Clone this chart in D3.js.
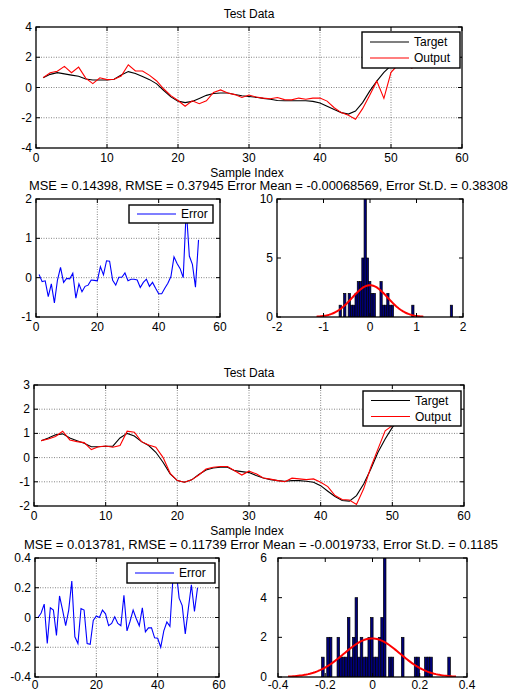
<html>
<head>
<script type="text/javascript" src="https://d3js.org/d3.v7.min.js"></script>
<style>
  body { margin: 0; background: #fff; }
  svg text { font-family: "Liberation Sans", Arial, sans-serif; font-size: 12px; fill: #000; }
  .grid line { stroke: #666; stroke-width: 0.8; stroke-dasharray: 1,1.5; }
</style>
</head>
<body>
<script type="text/javascript">
// sample index 1..53
var sampleIndex = d3.range(1, 54);

// first run: network target / output on the test set
var target1 = [0.65, 0.87, 0.98, 0.9, 0.82, 0.74, 0.56, 0.5, 0.5, 0.5, 0.54, 0.83, 1.05, 0.92, 0.72, 0.52,
  0.24, -0.2, -0.62, -0.9, -1.0, -0.92, -0.72, -0.52, -0.4, -0.36, -0.36, -0.46, -0.55, -0.6, -0.65,
  -0.72, -0.78, -0.86, -0.88, -0.88, -0.88, -0.88, -0.92, -1.02, -1.24, -1.46, -1.66, -1.76, -1.56,
  -1.0, -0.24, 0.42, 1.0, 1.45, 1.75, 1.9, 2.0];
var output1 = [0.65, 0.98, 1.08, 1.4, 0.98, 1.35, 0.62, 0.26, 0.64, 0.52, 0.55, 0.76, 1.5, 1.09, 1.09, 0.8,
  0.43, -0.1, -0.54, -0.86, -1.24, -0.88, -1.07, -0.88, -0.33, -0.16, -0.37, -0.47, -0.66, -0.5, -0.63,
  -0.7, -0.74, -0.66, -0.8, -0.82, -0.7, -0.78, -0.7, -0.7, -0.9, -1.34, -1.66, -1.84, -2.1, -1.4,
  -0.52, 0.42, -0.72, 1.0, 1.5, 1.6, 1.25];
var error1 = [0.08, -0.1, -0.08, -0.48, -0.16, -0.64, -0.06, 0.26, -0.12, -0.02, -0.03, 0.11, -0.52, -0.16,
  -0.36, -0.22, -0.19, -0.06, -0.07, -0.08, 0.28, 0.07, 0.43, 0.42, -0.07, -0.19, 0.01, 0.01, 0.12,
  -0.08, -0.04, -0.04, -0.06, -0.25, -0.12, -0.04, -0.22, -0.12, -0.27, -0.41, -0.41, -0.27, -0.14,
  0.03, 0.53, 0.36, 0.23, 0.0, 1.75, 0.55, 0.34, -0.24, 0.96];
// error histogram: 50 bins, first bin centre and bin width
var hist1Counts = [1, 0, 2, 0, 2, 1, 1, 2, 3, 3, 5, 10, 5, 3, 2, 2, 0, 0, 3, 1, 1, 2, 1, 1, 0,
  0, 0, 0, 0, 0, 0, 0, 1, 0, 0, 0, 0, 0, 0, 0, 0, 0, 0, 0, 0, 0, 0, 0, 0, 1];
var hist1Start = -0.64, hist1Width = 0.0488;

// second run
var target2 = [0.7, 0.81, 0.94, 0.98, 0.81, 0.7, 0.59, 0.45, 0.45, 0.47, 0.47, 0.81, 1.0, 0.89, 0.66, 0.5,
  0.22, -0.19, -0.67, -0.95, -1.02, -0.92, -0.7, -0.51, -0.43, -0.4, -0.4, -0.54, -0.58, -0.62, -0.74,
  -0.84, -0.91, -0.95, -0.98, -0.95, -0.95, -0.98, -1.02, -1.16, -1.39, -1.61, -1.77, -1.8, -1.57,
  -1.09, -0.47, 0.22, 0.77, 1.25, 1.6, 1.85, 2.0];
var output2 = [0.7, 0.77, 0.87, 1.09, 0.73, 0.66, 0.62, 0.33, 0.45, 0.48, 0.43, 0.5, 1.09, 1.05, 0.66, 0.52,
  0.43, 0.01, -0.65, -0.95, -1.02, -0.92, -0.72, -0.47, -0.4, -0.37, -0.37, -0.54, -0.72, -0.56, -0.67,
  -0.84, -0.89, -0.95, -1.0, -0.85, -0.88, -0.91, -0.88, -1.02, -1.2, -1.57, -1.73, -1.75, -1.94,
  -1.29, -0.4, 0.36, 1.11, 1.32, 1.6, 1.8, 2.0];
var error2 = [0, 0.03, 0.09, -0.175, 0.065, 0.05, -0.12, 0.145, 0.05, -0.055, 0.05, 0.245, -0.13, -0.175,
  0.06, 0.05, -0.175, -0.18, -0.02, 0.01, 0.0, 0.05, 0.025, -0.055, -0.04, 0.005, -0.04, -0.055, 0.15,
  -0.09, -0.025, 0.05, -0.007, -0.056, 0.065, -0.097, -0.07, -0.07, -0.137, -0.14, -0.2, -0.09, -0.03,
  -0.06, 0.27, 0.32, 0.13, 0.08, -0.11, 0.06, 0.22, 0.04, 0.2];
var hist2Counts = [1, 0, 2, 2, 0, 0, 2, 1, 1, 1, 3, 1, 2, 4, 1, 2, 1, 1, 2, 3, 1, 1, 2, 3, 6,
  0, 1, 1, 0, 0, 0, 2, 0, 0, 0, 0, 1, 1, 0, 0, 1, 1, 1, 0, 0, 0, 0, 0, 0, 1];
var hist2Start = -0.21, hist2Width = 0.0109;

// performance figures printed above the error plots
var mseVals = [0.14398, 0.013781];
var rmseVals = [0.37945, 0.11739];
var errMeans = [-0.00068569, -0.0019733];
var errStds = [0.38308, 0.1185];

// tick values
var seriesXTicks = [0, 10, 20, 30, 40, 50, 60];
var top1YTicks = [-4, -2, 0, 2, 4];
var top2YTicks = [-2, -1, 0, 1, 2, 3];
var errXTicks = [0, 20, 40, 60];
var err1YTicks = [-1, 0, 1, 2];
var err2YTicks = [-0.4, -0.2, 0, 0.2, 0.4];
var hist1XTicks = [-2, -1, 0, 1, 2];
var hist1YTicks = [0, 5, 10];
var hist2XTicks = [-0.4, -0.2, 0, 0.2, 0.4];
var hist2YTicks = [0, 2, 4, 6];

var svg = d3.select("body").append("svg")
  .attr("width", 516)
  .attr("height", 692);

var fmt = function(d) { return String(+d.toFixed(2)); };
var clipId = 0;

// one MATLAB-style axes: box, inward ticks on every side, optional dotted grid
function makeAxes(p) {
  var x = d3.scaleLinear().domain(p.xd).range([p.l, p.r]);
  var y = d3.scaleLinear().domain(p.yd).range([p.b, p.t]);
  var g = svg.append("g");

  if (p.grid) {
    var grid = g.append("g").attr("class", "grid");
    grid.selectAll(".gx").data(p.xt.slice(1, -1)).enter().append("line")
      .attr("x1", x).attr("x2", x).attr("y1", p.t).attr("y2", p.b);
    grid.selectAll(".gy").data(p.yt.slice(1, -1)).enter().append("line")
      .attr("y1", y).attr("y2", y).attr("x1", p.l).attr("x2", p.r);
  }

  var id = "clip" + (clipId++);
  svg.append("clipPath").attr("id", id).append("rect")
    .attr("x", p.l).attr("y", p.t).attr("width", p.r - p.l).attr("height", p.b - p.t);
  var plot = g.append("g").attr("clip-path", "url(#" + id + ")");

  var frame = svg.append("g");
  var tl = 4;
  frame.selectAll(".tx").data(p.xt).enter().append("path")
    .attr("d", function(d) {
      return "M" + x(d) + "," + p.b + "v" + (-tl) + "M" + x(d) + "," + p.t + "v" + tl;
    })
    .attr("stroke", "#000").attr("stroke-width", 1);
  frame.selectAll(".ty").data(p.yt).enter().append("path")
    .attr("d", function(d) {
      return "M" + p.l + "," + y(d) + "h" + tl + "M" + p.r + "," + y(d) + "h" + (-tl);
    })
    .attr("stroke", "#000").attr("stroke-width", 1);
  frame.append("rect")
    .attr("x", p.l).attr("y", p.t).attr("width", p.r - p.l).attr("height", p.b - p.t)
    .attr("fill", "none").attr("stroke", "#000").attr("stroke-width", 1.3);

  frame.selectAll(".lx").data(p.xt).enter().append("text")
    .attr("x", x).attr("y", p.b + (p.xlOff || 14))
    .attr("text-anchor", "middle")
    .text(fmt);
  frame.selectAll(".ly").data(p.yt).enter().append("text")
    .attr("x", p.l - (p.ylOff || 4)).attr("y", y).attr("dy", "0.34em")
    .attr("text-anchor", "end")
    .text(fmt);

  return { x: x, y: y, plot: plot, g: g };
}

function drawLine(ax, vals, color) {
  var line = d3.line()
    .x(function(d, i) { return ax.x(sampleIndex[i]); })
    .y(function(d) { return ax.y(d); });
  ax.plot.append("path").datum(vals)
    .attr("d", line)
    .attr("fill", "none")
    .attr("stroke", color)
    .attr("stroke-width", 1.1);
}

function legend(x0, y0, x1, y1, items, rowGap) {
  var lg = svg.append("g");
  lg.append("rect")
    .attr("x", x0).attr("y", y0).attr("width", x1 - x0).attr("height", y1 - y0)
    .attr("fill", "#fff").attr("stroke", "#000").attr("stroke-width", 1.4);
  var mid = (y0 + y1) / 2 - (items.length - 1) * rowGap / 2;
  items.forEach(function(it, i) {
    var yy = mid + i * rowGap;
    lg.append("line")
      .attr("x1", x0 + 8).attr("x2", x0 + 47).attr("y1", yy).attr("y2", yy)
      .attr("stroke", it.color).attr("stroke-width", 1.1);
    lg.append("text")
      .attr("x", x0 + 52).attr("y", yy).attr("dy", "0.36em")
      .text(it.label);
  });
}

function histogram(ax, counts, start, width, mean, sd) {
  ax.plot.selectAll(".bar").data(counts).enter().append("rect")
    .attr("x", function(d, i) { return ax.x(start + (i - 0.5) * width); })
    .attr("width", function() { return ax.x(width) - ax.x(0); })
    .attr("y", function(d) { return ax.y(d); })
    .attr("height", function(d) { return ax.y(0) - ax.y(d); })
    .attr("fill", "#00007a")
    .attr("stroke", "#000")
    .attr("stroke-width", 0.7);

  // normal fit drawn from the printed mean / st.d., scaled to the counts
  var n = d3.sum(counts);
  var pts = d3.range(0, 101).map(function(k) {
    var v = mean - 3 * sd + 6 * sd * k / 100;
    return [v, n * width / (sd * Math.sqrt(2 * Math.PI)) * Math.exp(-0.5 * Math.pow((v - mean) / sd, 2))];
  });
  ax.plot.append("path").datum(pts)
    .attr("d", d3.line().x(function(d) { return ax.x(d[0]); }).y(function(d) { return ax.y(d[1]); }))
    .attr("fill", "none")
    .attr("stroke", "#ff0000")
    .attr("stroke-width", 2);
}

function statText(k) {
  return "MSE = " + mseVals[k] + ", RMSE = " + rmseVals[k] + (k ? "  " : " ") +
    "Error Mean = " + errMeans[k] + ", Error St.D. = " + errStds[k];
}

// ---------- figure 1 ----------
svg.append("text").attr("x", 249).attr("y", 18).attr("text-anchor", "middle").text("Test Data");
var a1 = makeAxes({ l: 36, r: 462, t: 27, b: 148, xd: [0, 60], yd: [-4, 4], xt: seriesXTicks, yt: top1YTicks, grid: true });
drawLine(a1, target1, "#000");
drawLine(a1, output1, "#ff0000");
legend(362, 32, 460, 68, [{ color: "#000", label: "Target" }, { color: "#ff0000", label: "Output" }], 16);
svg.append("text").attr("x", 247).attr("y", 177).attr("text-anchor", "middle").text("Sample Index");
svg.append("text").attr("x", 29).attr("y", 190)
  .attr("textLength", 479).attr("lengthAdjust", "spacingAndGlyphs")
  .text(statText(0));

var e1 = makeAxes({ l: 36, r: 220, t: 199, b: 317, xd: [0, 60], yd: [-1, 2], xt: errXTicks, yt: err1YTicks, grid: true });
drawLine(e1, error1, "#0000ff");
legend(129, 205, 213, 223, [{ color: "#0000ff", label: "Error" }], 0);

var h1 = makeAxes({ l: 277, r: 463, t: 199, b: 317, xd: [-2, 2], yd: [0, 10], xt: hist1XTicks, yt: hist1YTicks, grid: false });
histogram(h1, hist1Counts, hist1Start, hist1Width, errMeans[0], errStds[0]);

// ---------- figure 2 ----------
svg.append("text").attr("x", 249).attr("y", 377).attr("text-anchor", "middle").text("Test Data");
var a2 = makeAxes({ l: 34, r: 464, t: 385, b: 506, xd: [0, 60], yd: [-2, 3], xt: seriesXTicks, yt: top2YTicks, grid: true });
drawLine(a2, target2, "#000");
drawLine(a2, output2, "#ff0000");
legend(363, 391, 461, 426, [{ color: "#000", label: "Target" }, { color: "#ff0000", label: "Output" }], 16);
svg.append("text").attr("x", 247).attr("y", 535).attr("text-anchor", "middle").text("Sample Index");
svg.append("text").attr("x", 24).attr("y", 549)
  .attr("textLength", 474).attr("lengthAdjust", "spacingAndGlyphs")
  .text(statText(1));

// bottom row sits right on the page edge, so its tick labels ride a little higher
var e2 = makeAxes({ l: 35, r: 219, t: 558, b: 677, xd: [0, 60], yd: [-0.4, 0.4], xt: errXTicks, yt: err2YTicks, grid: true, xlOff: 12 });
drawLine(e2, error2, "#0000ff");
legend(127, 563, 215, 583, [{ color: "#0000ff", label: "Error" }], 0);

// y labels pushed out a bit so the "0" clears the "-0.4" under it
var h2 = makeAxes({ l: 278, r: 467, t: 558, b: 677, xd: [-0.4, 0.4], yd: [0, 6], xt: hist2XTicks, yt: hist2YTicks, grid: false, xlOff: 12, ylOff: 11 });
histogram(h2, hist2Counts, hist2Start, hist2Width, errMeans[1], errStds[1]);
</script>
</body>
</html>
